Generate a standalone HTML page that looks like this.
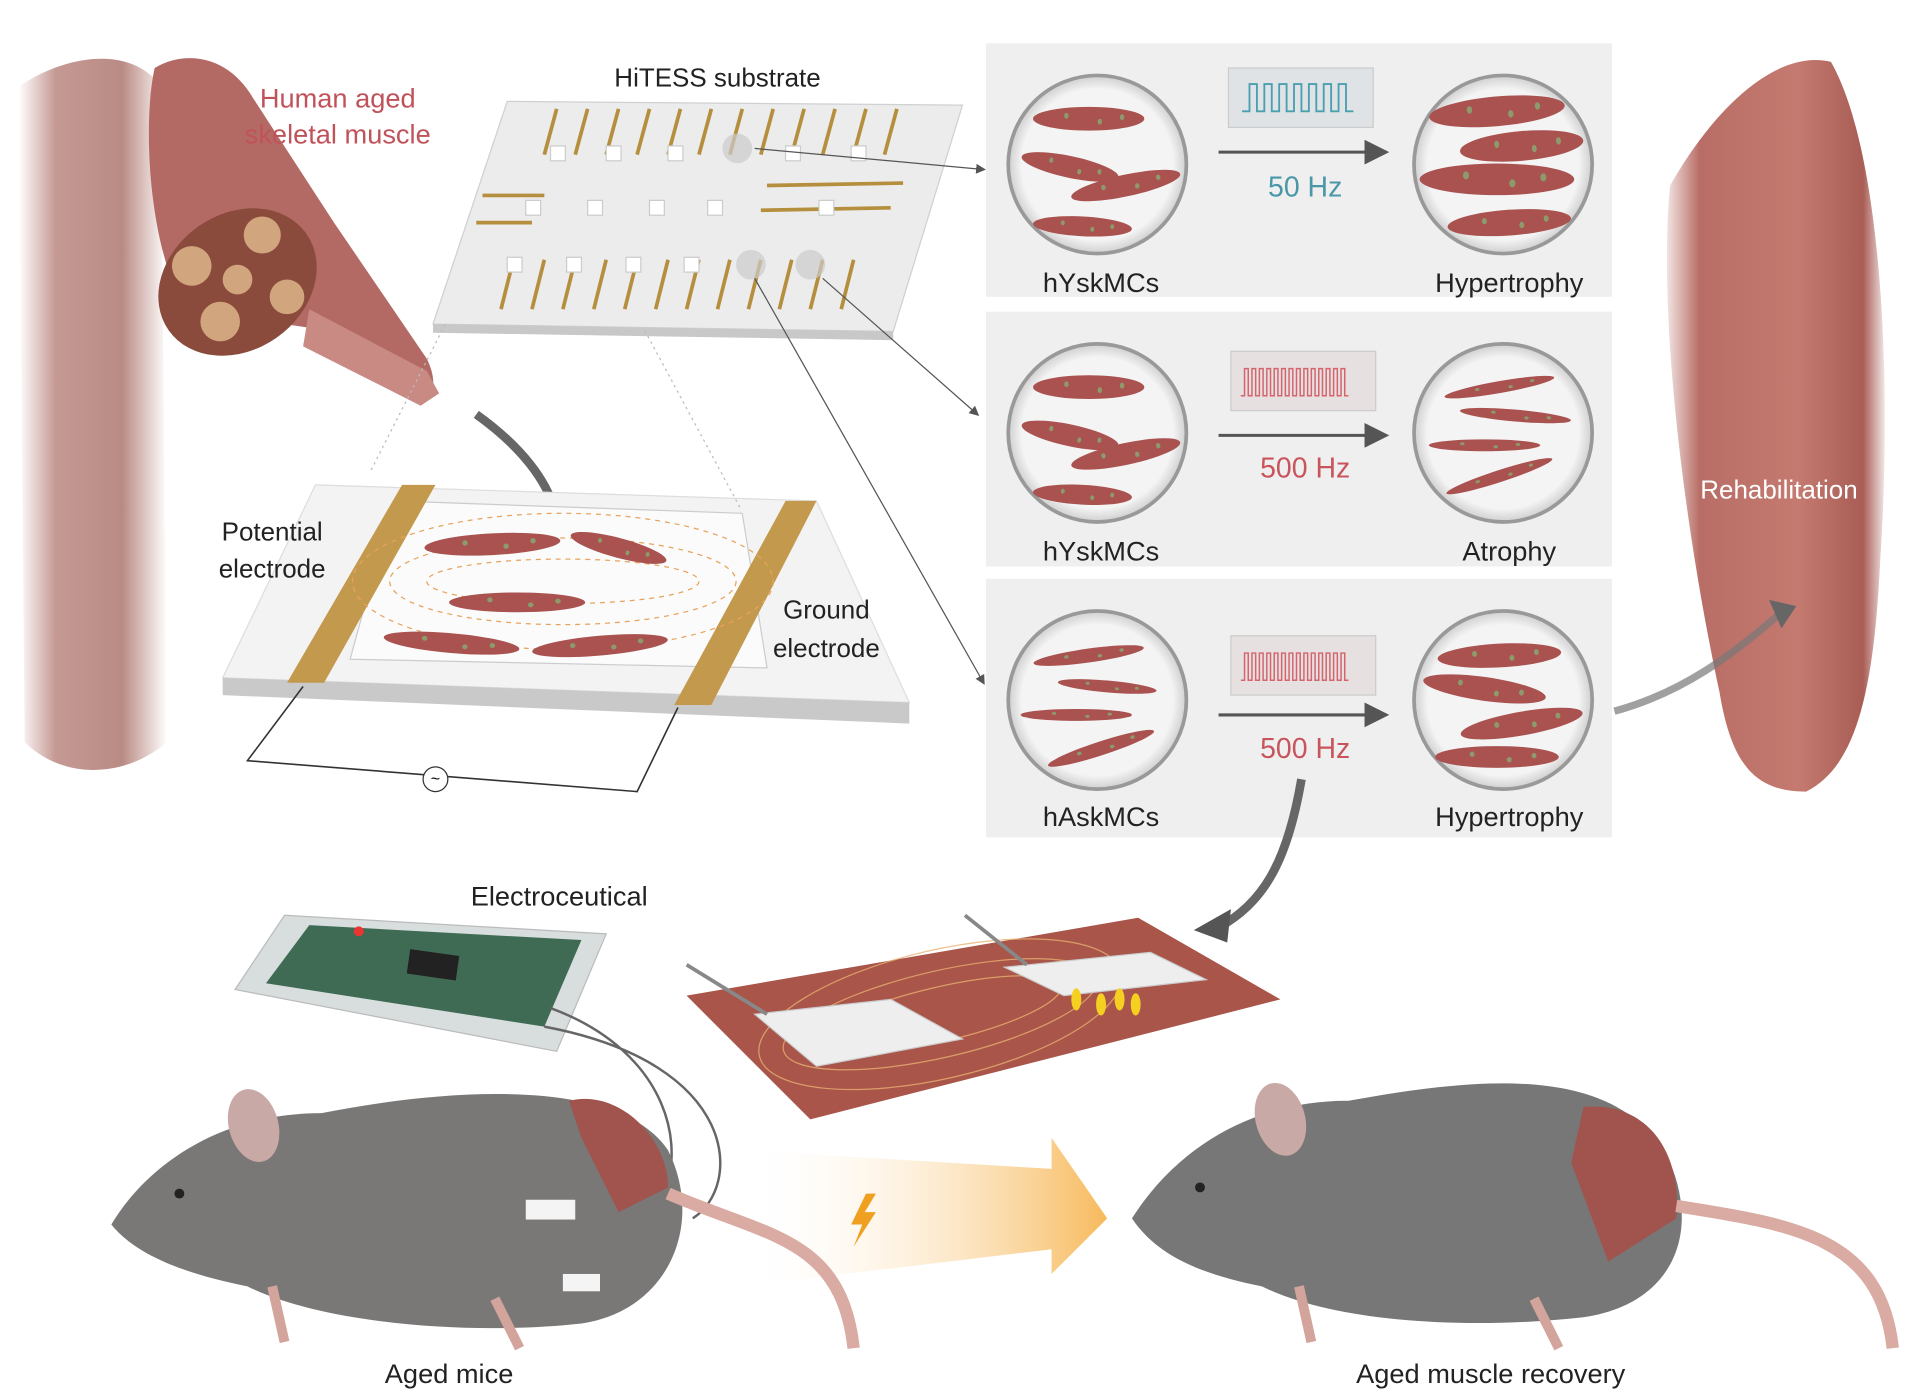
<!DOCTYPE html>
<html><head><meta charset="utf-8"><style>
html,body{margin:0;padding:0;background:#fff}
svg{display:block}
text{font-family:"Liberation Sans",Arial,sans-serif}
</style></head><body>
<svg width="1920" height="1389" viewBox="0 0 1552 1123" preserveAspectRatio="none" xmlns="http://www.w3.org/2000/svg">
<defs>
<linearGradient id="leg" x1="0" x2="1"><stop offset="0" stop-color="#fff"/><stop offset=".25" stop-color="#b27770"/><stop offset=".7" stop-color="#a3645c"/><stop offset="1" stop-color="#fff"/></linearGradient>
<linearGradient id="leg2" x1="0" x2="1"><stop offset="0" stop-color="#f2e4e2"/><stop offset=".15" stop-color="#b86e66"/><stop offset=".6" stop-color="#c57a70"/><stop offset=".9" stop-color="#a85d55"/><stop offset="1" stop-color="#f3e8e6"/></linearGradient>
<linearGradient id="orr" x1="0" x2="1"><stop offset="0" stop-color="#fff" stop-opacity="0"/><stop offset="1" stop-color="#f6b24a"/></linearGradient>
<radialGradient id="circ"><stop offset=".85" stop-color="#f4f4f4"/><stop offset="1" stop-color="#cfcfcf"/></radialGradient>
<g id="cell"><ellipse cx="0" cy="0" rx="50" ry="8" fill="#a9524f"/><circle cx="-20" cy="-2" r="2" fill="#8c9a6c"/><circle cx="10" cy="2" r="2" fill="#8c9a6c"/><circle cx="30" cy="-1" r="2" fill="#8c9a6c"/></g>
<marker id="ah" markerWidth="8" markerHeight="8" refX="6" refY="4" orient="auto"><path d="M0,0L8,4L0,8z" fill="#555"/></marker>
</defs>
<rect width="1552" height="1123" fill="#fff"/>
<!-- left leg -->
<path d="M15,70 C60,40 110,40 130,70 L135,600 C100,630 50,630 20,600 Z" fill="url(#leg)" opacity=".75"/>
<!-- right leg -->
<path d="M1350,150 C1390,80 1440,40 1480,50 C1520,120 1530,300 1520,450 C1515,560 1500,620 1460,640 C1420,640 1400,620 1390,560 C1360,420 1340,250 1350,150 Z" fill="url(#leg2)"/>
<text x="1438" y="403" font-size="21" fill="#fff" text-anchor="middle">Rehabilitation</text>
<path d="M1305,575 C1360,560 1400,530 1440,495" stroke="#777" stroke-width="6" fill="none" opacity=".7"/>
<path d="M1430,485 L1452,490 L1440,508 Z" fill="#666"/>
<!-- panels -->
<rect x="797" y="35" width="506" height="205" fill="#efefef"/>
<rect x="797" y="252" width="506" height="206" fill="#efefef"/>
<rect x="797" y="468" width="506" height="209" fill="#efefef"/>
<g fill="url(#circ)" stroke="#999" stroke-width="3">
<circle cx="887" cy="133" r="72"/><circle cx="1215" cy="133" r="72"/>
<circle cx="887" cy="350" r="72"/><circle cx="1215" cy="350" r="72"/>
<circle cx="887" cy="566" r="72"/><circle cx="1215" cy="566" r="72"/>
</g>
<use href="#cell" transform="translate(880,96) scale(.9,1.2)"/>
<use href="#cell" transform="translate(865,135) rotate(12) scale(.8,1.1)"/>
<use href="#cell" transform="translate(910,150) rotate(-12) scale(.9,1.1)"/>
<use href="#cell" transform="translate(875,183) rotate(3) scale(.8,1)"/>
<use href="#cell" transform="translate(1210,90) rotate(-5) scale(1.1,1.5)"/>
<use href="#cell" transform="translate(1230,118) rotate(-5) scale(1,1.5)"/>
<use href="#cell" transform="translate(1210,145) scale(1.25,1.6)"/>
<use href="#cell" transform="translate(1220,180) rotate(-4) scale(1,1.3)"/>
<use href="#cell" transform="translate(880,313) scale(.9,1.2)"/>
<use href="#cell" transform="translate(865,352) rotate(12) scale(.8,1.1)"/>
<use href="#cell" transform="translate(910,367) rotate(-12) scale(.9,1.1)"/>
<use href="#cell" transform="translate(875,400) rotate(3) scale(.8,1)"/>
<use href="#cell" transform="translate(1212,313) rotate(-10) scale(.9,.6)"/>
<use href="#cell" transform="translate(1225,336) rotate(5) scale(.9,.6)"/>
<use href="#cell" transform="translate(1200,360) rotate(0) scale(.9,.6)"/>
<use href="#cell" transform="translate(1212,385) rotate(-18) scale(.9,.6)"/>
<use href="#cell" transform="translate(880,530) rotate(-8) scale(.9,.7)"/>
<use href="#cell" transform="translate(895,555) rotate(5) scale(.8,.6)"/>
<use href="#cell" transform="translate(870,578) scale(.9,.6)"/>
<use href="#cell" transform="translate(890,605) rotate(-18) scale(.9,.7)"/>
<use href="#cell" transform="translate(1212,530) rotate(-3) scale(1,1.2)"/>
<use href="#cell" transform="translate(1200,557) rotate(8) scale(1,1.2)"/>
<use href="#cell" transform="translate(1230,585) rotate(-10) scale(1,1.2)"/>
<use href="#cell" transform="translate(1210,612) scale(1,1.1)"/>
<rect x="993" y="55" width="117" height="48" fill="#dfe3e6" stroke="#ccc"/>
<path d="M1004,90 h6 v-22 h6 v22 h6 v-22 h6 v22 h6 v-22 h6 v22 h6 v-22 h6 v22 h6 v-22 h6 v22 h6 v-22 h6 v22 h6 v-22 h6 v22 h6" stroke="#4a9fb0" fill="none" stroke-width="1.5"/>
<rect x="995" y="284" width="117" height="48" fill="#e6e0e0" stroke="#ccc"/>
<path d="M1003,320 h3 v-22 h3 v22 h3 v-22 h3 v22 h3 v-22 h3 v22 h3 v-22 h3 v22 h3 v-22 h3 v22 h3 v-22 h3 v22 h3 v-22 h3 v22 h3 v-22 h3 v22 h3 v-22 h3 v22 h3 v-22 h3 v22 h3 v-22 h3 v22 h3 v-22 h3 v22 h3 v-22 h3 v22 h3 v-22 h3 v22 h3" stroke="#d5646d" fill="none" stroke-width="1.2"/>
<rect x="995" y="514" width="117" height="48" fill="#e6e0e0" stroke="#ccc"/>
<path d="M1003,550 h3 v-22 h3 v22 h3 v-22 h3 v22 h3 v-22 h3 v22 h3 v-22 h3 v22 h3 v-22 h3 v22 h3 v-22 h3 v22 h3 v-22 h3 v22 h3 v-22 h3 v22 h3 v-22 h3 v22 h3 v-22 h3 v22 h3 v-22 h3 v22 h3 v-22 h3 v22 h3 v-22 h3 v22 h3 v-22 h3 v22 h3" stroke="#d5646d" fill="none" stroke-width="1.2"/>
<line x1="985" y1="123" x2="1118" y2="123" stroke="#555" stroke-width="2.5" marker-end="url(#ah)"/>
<line x1="985" y1="352" x2="1118" y2="352" stroke="#555" stroke-width="2.5" marker-end="url(#ah)"/>
<line x1="985" y1="578" x2="1118" y2="578" stroke="#555" stroke-width="2.5" marker-end="url(#ah)"/>
<g font-size="23" text-anchor="middle">
<text x="1055" y="159" fill="#4a97a8">50 Hz</text>
<text x="1055" y="386" fill="#c9545c">500 Hz</text>
<text x="1055" y="613" fill="#c9545c">500 Hz</text>
</g>
<g font-size="22" fill="#222" text-anchor="middle">
<text x="890" y="236">hYskMCs</text><text x="1220" y="236">Hypertrophy</text>
<text x="890" y="453">hYskMCs</text><text x="1220" y="453">Atrophy</text>
<text x="890" y="668">hAskMCs</text><text x="1220" y="668">Hypertrophy</text>
</g>
<!-- HiTESS substrate -->
<path d="M410,82 L778,85 L722,268 L350,262 Z" fill="#ececec" stroke="#d0d0d0"/>
<path d="M350,262 L722,268 L722,275 L350,269Z" fill="#c8c8c8"/>
<g stroke="#b58f3d" stroke-width="3">
<path d="M450,88 L440,125 M475,88 L465,125 M500,88 L490,125 M525,88 L515,125 M550,88 L540,125 M575,88 L565,125 M600,88 L590,125 M625,88 L615,125 M650,88 L640,125 M675,88 L665,125 M700,88 L690,125 M725,88 L715,125"/>
<path d="M415,210 L405,250 M440,210 L430,250 M465,210 L455,250 M490,210 L480,250 M515,210 L505,250 M540,210 L530,250 M565,210 L555,250 M590,210 L580,250 M615,210 L605,250 M640,210 L630,250 M665,210 L655,250 M690,210 L680,250"/>
<path d="M385,180 L430,180 M390,158 L440,158 M620,150 L730,148 M615,170 L720,168"/>
</g>
<g fill="#fff" stroke="#ccc"><rect x="445" y="118" width="12" height="12"/><rect x="490" y="118" width="12" height="12"/><rect x="540" y="118" width="12" height="12"/><rect x="635" y="118" width="12" height="12"/><rect x="688" y="118" width="12" height="12"/><rect x="425" y="162" width="12" height="12"/><rect x="475" y="162" width="12" height="12"/><rect x="525" y="162" width="12" height="12"/><rect x="572" y="162" width="12" height="12"/><rect x="662" y="162" width="12" height="12"/><rect x="410" y="208" width="12" height="12"/><rect x="458" y="208" width="12" height="12"/><rect x="506" y="208" width="12" height="12"/><rect x="553" y="208" width="12" height="12"/></g>
<circle cx="596" cy="120" r="12" fill="#ccc" opacity=".7"/><circle cx="607" cy="214" r="12" fill="#ccc" opacity=".7"/><circle cx="655" cy="214" r="12" fill="#ccc" opacity=".7"/>
<text x="580" y="70" font-size="21" fill="#222" text-anchor="middle">HiTESS substrate</text>
<g stroke="#555" stroke-width="1" fill="none">
<path d="M610,120 L795,137" marker-end="url(#ah)"/>
<path d="M665,225 L790,335" marker-end="url(#ah)"/>
<path d="M610,225 L795,552" marker-end="url(#ah)"/>
</g>
<!-- muscle bundle -->
<path d="M125,55 C150,40 185,45 205,80 L270,180 L345,290 C355,310 350,325 335,325 L250,265 L150,250 C120,200 115,100 125,55 Z" fill="#b46a64"/>
<path d="M250,250 L345,300 L355,318 L340,328 L245,280Z" fill="#c98a84"/>
<ellipse cx="192" cy="228" rx="68" ry="55" fill="#8a4b3d" transform="rotate(-35 192 228)"/>
<g fill="#d1a57d"><circle cx="155" cy="215" r="16"/><circle cx="178" cy="260" r="16"/><circle cx="212" cy="190" r="15"/><circle cx="232" cy="240" r="14"/><circle cx="192" cy="226" r="12"/></g>
<text x="273" y="87" font-size="22" fill="#c0525a" text-anchor="middle">Human aged</text>
<text x="273" y="116" font-size="22" fill="#c0525a" text-anchor="middle">skeletal muscle</text>
<path d="M385,335 C420,360 445,390 450,420" stroke="#666" stroke-width="7" fill="none"/>
<path d="M438,410 L462,412 L452,432Z" fill="#555"/>
<!-- electrode device -->
<path d="M255,392 L660,405 L735,568 L180,548 Z" fill="#f3f3f3" stroke="#ddd"/>
<path d="M180,548 L735,568 L735,585 L180,562 Z" fill="#c9c9c9"/>
<path d="M318,405 L600,415 L620,540 L283,533 Z" fill="#fbfbfb" stroke="#ccc"/>
<path d="M325,392 L352,392 L262,552 L232,552 Z" fill="#c39a4d"/>
<path d="M635,405 L660,405 L575,570 L545,570 Z" fill="#c39a4d"/>
<g fill="none" stroke="#e6a35c" stroke-dasharray="4 4"><ellipse cx="455" cy="470" rx="140" ry="35"/><ellipse cx="455" cy="470" rx="170" ry="55"/><ellipse cx="455" cy="470" rx="110" ry="18"/></g>
<use href="#cell" transform="translate(398,440) rotate(-3) scale(1.1,1.1)"/>
<use href="#cell" transform="translate(500,443) rotate(15) scale(.8,1)"/>
<use href="#cell" transform="translate(418,487) scale(1.1,1)"/>
<use href="#cell" transform="translate(365,520) rotate(5) scale(1.1,1)"/>
<use href="#cell" transform="translate(485,522) rotate(-5) scale(1.1,1)"/>
<path d="M245,555 L200,615 L515,640 L548,572" stroke="#333" stroke-width="1.3" fill="none"/>
<circle cx="352" cy="630" r="10" fill="#fff" stroke="#333"/>
<text x="352" y="634" font-size="13" text-anchor="middle">~</text>
<text x="220" y="437" font-size="21" fill="#222" text-anchor="middle">Potential</text>
<text x="220" y="467" font-size="21" fill="#222" text-anchor="middle">electrode</text>
<text x="668" y="500" font-size="21" fill="#222" text-anchor="middle">Ground</text>
<text x="668" y="531" font-size="21" fill="#222" text-anchor="middle">electrode</text>
<path d="M300,380 L360,262 M598,410 L520,265" stroke="#bbb" stroke-dasharray="2 3"/>
<path d="M1052,630 C1040,700 1020,730 985,750" stroke="#666" stroke-width="7" fill="none"/>
<path d="M965,752 L995,735 L992,762Z" fill="#555"/>
<!-- electroceutical -->
<text x="452" y="732" font-size="22" fill="#222" text-anchor="middle">Electroceutical</text>
<path d="M230,740 L490,755 L450,850 L190,800 Z" fill="#d8dedd" stroke="#bbb"/>
<path d="M250,748 L470,760 L440,830 L215,795 Z" fill="#3f6b55"/>
<rect x="330" y="770" width="40" height="20" fill="#222" transform="rotate(8 350 780)"/>
<circle cx="290" cy="753" r="4" fill="#e33"/>
<path d="M445,815 C540,850 560,930 530,980 M440,830 C600,860 600,960 560,985" stroke="#666" stroke-width="2" fill="none"/>
<!-- red patch -->
<path d="M555,805 L920,742 L1035,808 L655,905 Z" fill="#a9554a"/>
<g fill="none" stroke="#e8b070" stroke-width="1" opacity=".8"><ellipse cx="760" cy="820" rx="130" ry="35" transform="rotate(-13 760 820)"/><ellipse cx="760" cy="820" rx="100" ry="22" transform="rotate(-13 760 820)"/><ellipse cx="760" cy="820" rx="150" ry="52" transform="rotate(-13 760 820)"/></g>
<path d="M610,820 L720,808 L778,840 L660,862 Z" fill="#eee" stroke="#ccc"/>
<path d="M812,782 L930,770 L975,792 L860,805 Z" fill="#eee" stroke="#ccc"/>
<g fill="#f6d020"><ellipse cx="870" cy="808" rx="4" ry="9"/><ellipse cx="890" cy="812" rx="4" ry="9"/><ellipse cx="905" cy="808" rx="4" ry="9"/><ellipse cx="918" cy="812" rx="4" ry="9"/></g>
<path d="M555,780 L620,820 M780,740 L830,780" stroke="#888" stroke-width="3"/>
<!-- orange arrow -->
<path d="M600,930 L850,945 L850,920 L895,985 L850,1030 L850,1010 L600,1040 Z" fill="url(#orr)" opacity=".9"/>
<path d="M700,965 L688,990 L697,990 L690,1008 L708,980 L699,980 L708,965Z" fill="#f0a020"/>
<!-- mouse left -->
<path d="M90,990 C120,940 180,900 260,900 C360,880 500,870 540,930 C570,990 540,1060 470,1070 C380,1080 260,1070 200,1040 C150,1030 110,1015 90,990 Z" fill="#7a7777"/>
<ellipse cx="205" cy="910" rx="20" ry="30" fill="#c9a9a5" transform="rotate(-15 205 910)"/>
<path d="M460,890 C500,880 540,920 540,960 L500,980 L470,920 Z" fill="#a0544d"/>
<path d="M540,965 C620,1000 680,1000 690,1090" stroke="#d9aba3" stroke-width="10" fill="none"/>
<rect x="425" y="970" width="40" height="16" fill="#f4f4f4"/>
<rect x="455" y="1030" width="30" height="14" fill="#f4f4f4"/>
<circle cx="145" cy="965" r="4" fill="#222"/>
<path d="M220,1040 L230,1085 M400,1050 L420,1090" stroke="#d3a49c" stroke-width="8"/>
<text x="363" y="1118" font-size="22" fill="#222" text-anchor="middle">Aged mice</text>
<!-- mouse right -->
<path d="M915,985 C950,930 1010,890 1090,890 C1200,870 1310,860 1350,940 C1375,1000 1350,1055 1280,1065 C1190,1075 1080,1070 1020,1040 C970,1030 935,1015 915,985 Z" fill="#777"/>
<ellipse cx="1035" cy="905" rx="20" ry="30" fill="#c9a9a5" transform="rotate(-15 1035 905)"/>
<path d="M1280,895 C1330,890 1360,930 1355,985 L1300,1020 L1270,940 Z" fill="#a0544d"/>
<path d="M1355,975 C1450,990 1520,1000 1530,1090" stroke="#d9aba3" stroke-width="10" fill="none"/>
<circle cx="970" cy="960" r="4" fill="#222"/>
<path d="M1050,1040 L1060,1085 M1240,1050 L1260,1090" stroke="#d3a49c" stroke-width="8"/>
<text x="1205" y="1118" font-size="22" fill="#222" text-anchor="middle">Aged muscle recovery</text>
</svg>
</body></html>
